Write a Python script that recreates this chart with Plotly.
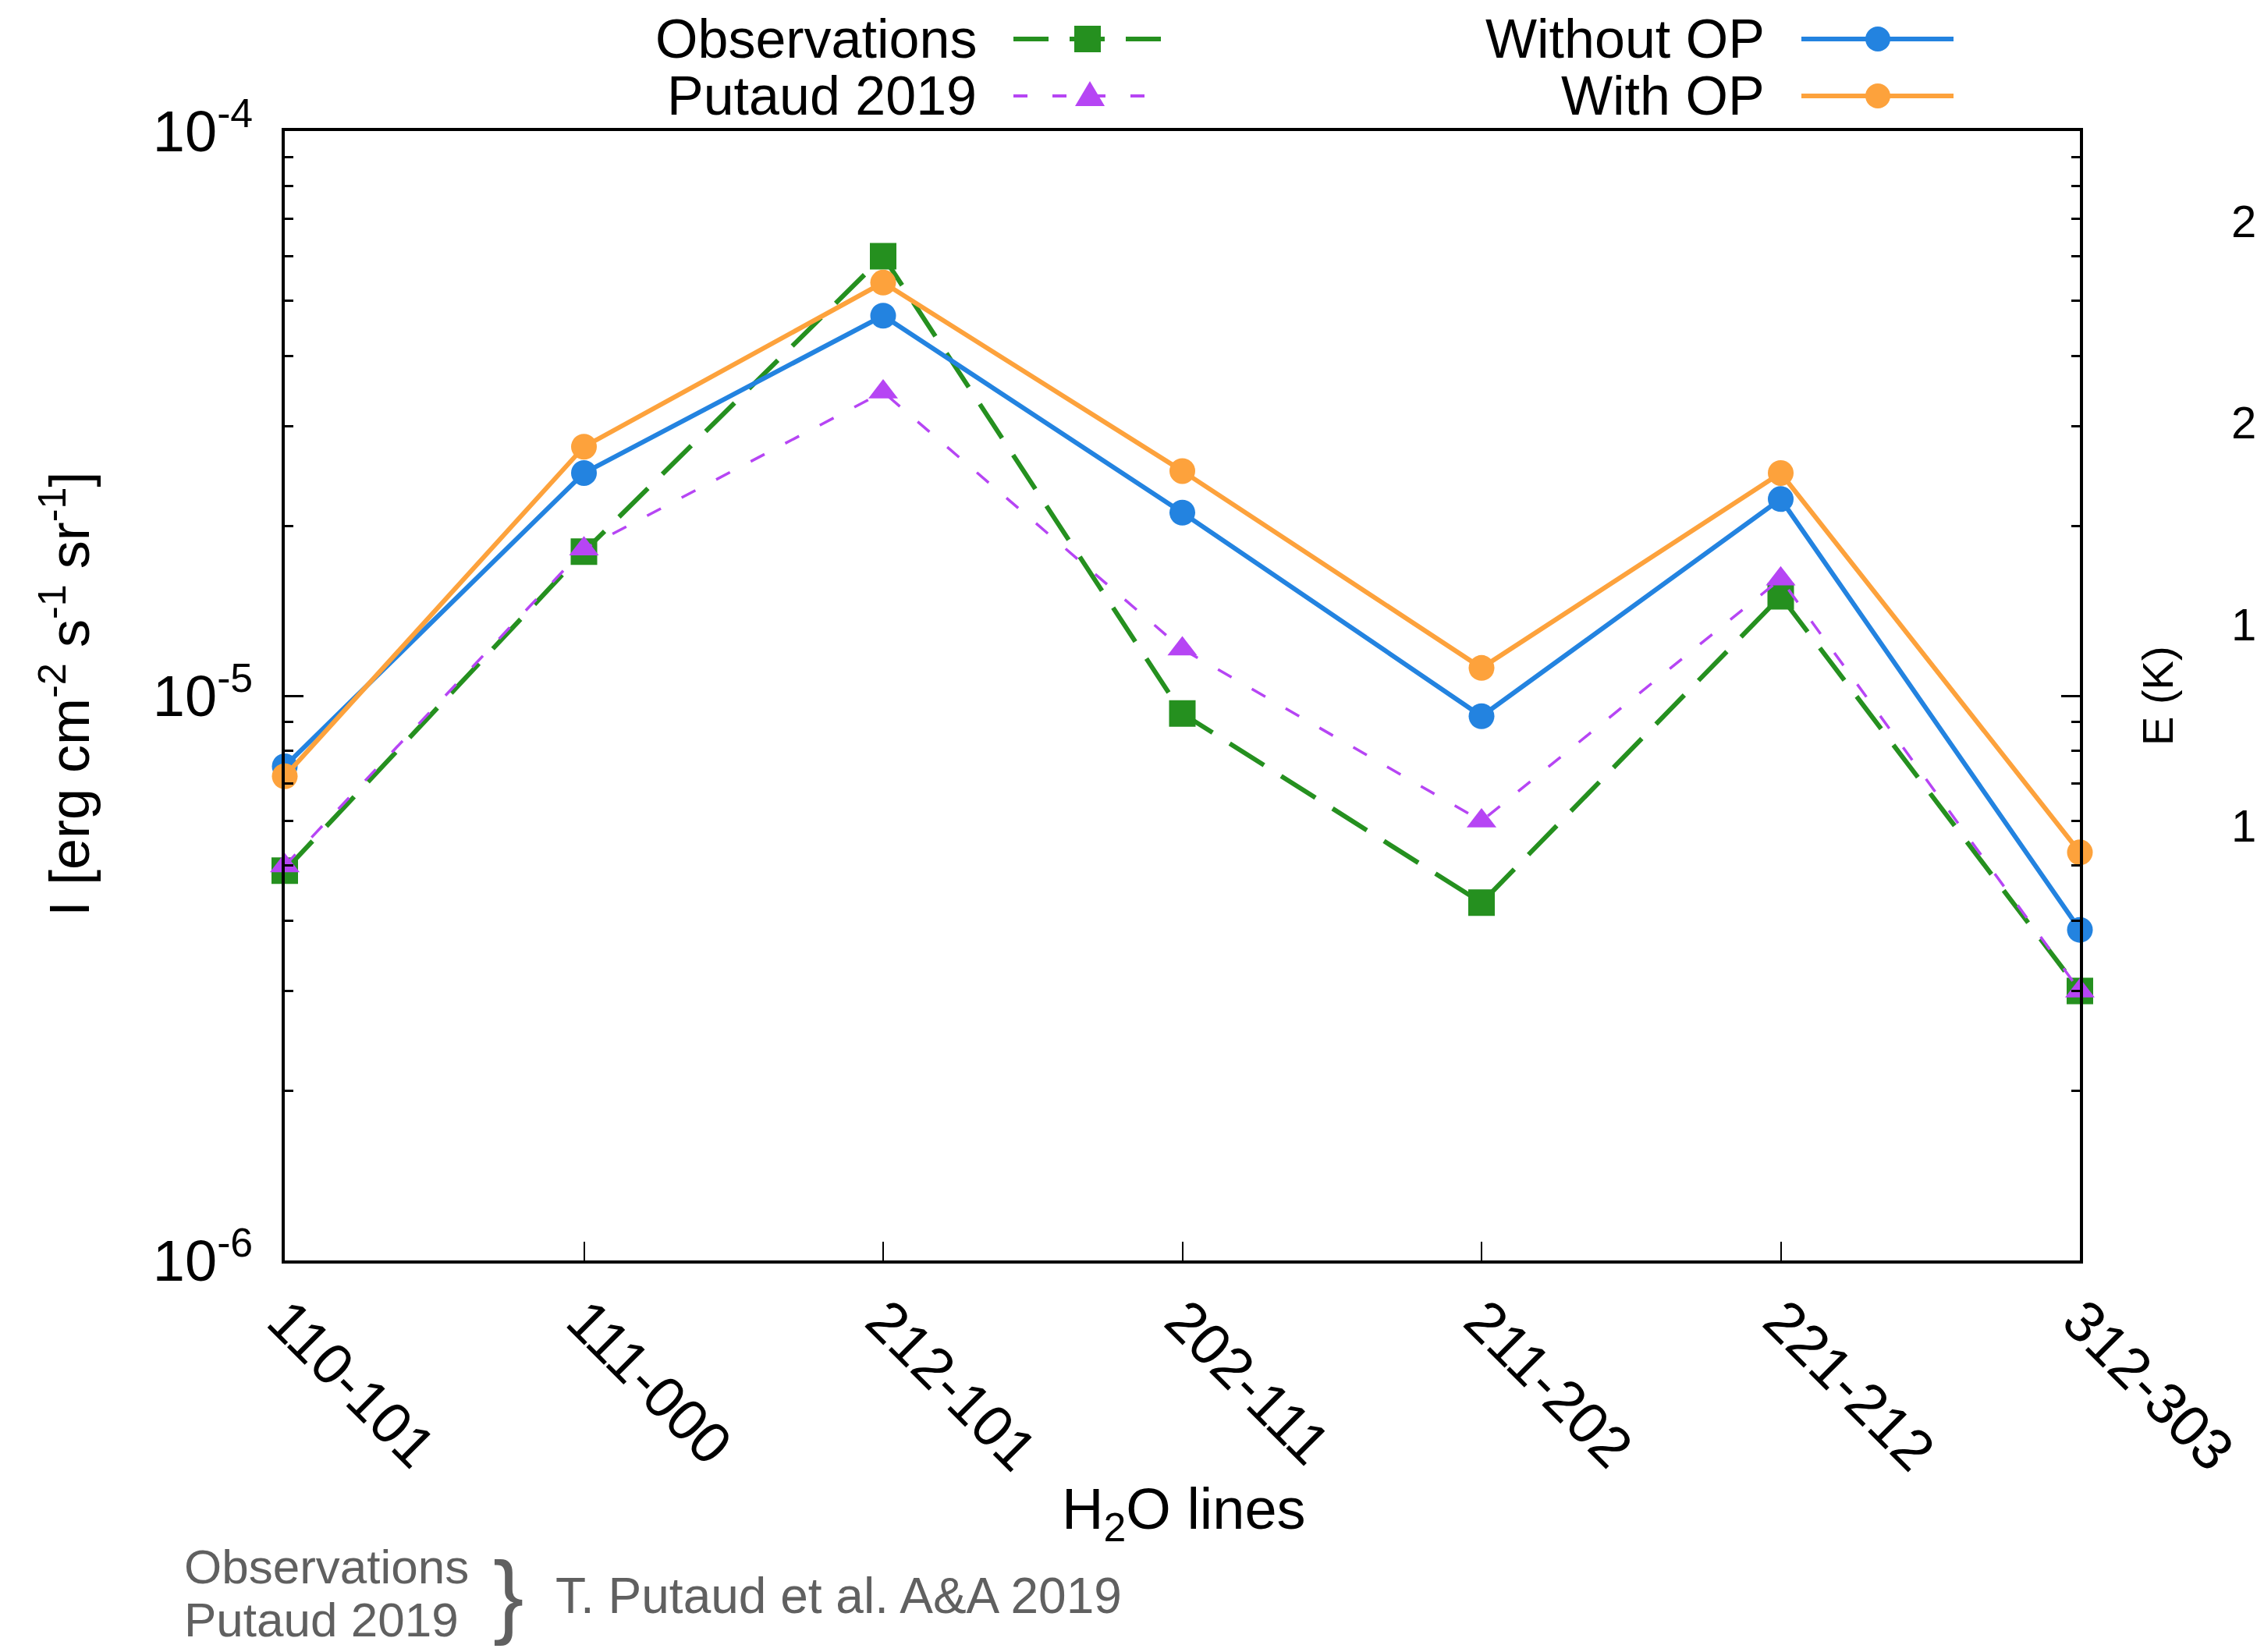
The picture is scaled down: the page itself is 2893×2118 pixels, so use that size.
import plotly.graph_objects as go

# H2O transitions (x categories)
lines = ["110-101", "111-000", "212-101", "202-111", "211-202", "221-212", "312-303"]

# Line intensities, erg cm^-2 s^-1 sr^-1
observations = [4.9e-6, 1.80e-5, 6.0e-5, 9.3e-6, 4.3e-6, 1.50e-5, 3.0e-6]
putaud_2019 = [5.0e-6, 1.82e-5, 3.45e-5, 1.21e-5, 6.0e-6, 1.61e-5, 3.0e-6]
without_op = [7.5e-6, 2.48e-5, 4.71e-5, 2.11e-5, 9.2e-6, 2.23e-5, 3.85e-6]
with_op = [7.2e-6, 2.76e-5, 5.39e-5, 2.50e-5, 1.12e-5, 2.48e-5, 5.28e-6]

# y-axis decades and their labels
y_major = [1e-6, 1e-5, 1e-4]
y_major_text = ["10<sup>-6</sup>", "10<sup>-5</sup>", "10<sup>-4</sup>"]
y_minor = [k * 10.0 ** e for e in (-6, -5) for k in range(2, 10)]

# labels of the partly visible energy scale on the right
e_scale_text = ["2", "2", "1", "1"]

GREEN = "#25901f"
PURPLE = "#b645f4"
BLUE = "#2383e0"
ORANGE = "#fda23c"
GREY = "#606060"
FONT = "Liberation Sans, Arial, Helvetica, sans-serif"

W, H = 2893, 2118
L, R, T, B = 365, 2666, 168, 1616


def px(x):
    return (x - L) / (R - L)


def py(y):
    return (B - y) / (B - T)


xs = list(range(len(lines)))

fig = go.Figure()
fig.add_trace(go.Scatter(
    x=xs, y=observations, mode="lines+markers", name="Observations",
    line=dict(color=GREEN, width=6, dash="52px,26px"),
    marker=dict(symbol="square", size=34, color=GREEN), cliponaxis=False))
fig.add_trace(go.Scatter(
    x=xs, y=putaud_2019, mode="lines+markers", name="Putaud 2019",
    line=dict(color=PURPLE, width=3.5, dash="20px,30px"),
    marker=dict(symbol="triangle-up", size=33, color=PURPLE), cliponaxis=False))
fig.add_trace(go.Scatter(
    x=xs, y=without_op, mode="lines+markers", name="Without OP",
    line=dict(color=BLUE, width=6),
    marker=dict(symbol="circle", size=33, color=BLUE), cliponaxis=False))
fig.add_trace(go.Scatter(
    x=xs, y=with_op, mode="lines+markers", name="With OP",
    line=dict(color=ORANGE, width=6),
    marker=dict(symbol="circle", size=33, color=ORANGE), cliponaxis=False))

annotations = []
shapes = []

# key: text on the left, sample on the right (two columns)
key = [
    ("Observations", 1254, 50, 1299, 1489, 1394, GREEN, 6, "45px,27px", "square"),
    ("Putaud 2019", 1254, 123, 1299, 1494, 1397, PURPLE, 4, "18px,32px", "triangle"),
    ("Without OP", 2264, 50, 2309, 2504, 2407, BLUE, 6, "solid", "circle"),
    ("With OP", 2264, 123, 2309, 2504, 2407, ORANGE, 6, "solid", "circle"),
]
for text, tx, ty, x0, x1, xm, color, lw, dash, sym in key:
    annotations.append(dict(
        text=text, x=px(tx), y=py(ty), xref="paper", yref="paper",
        xanchor="right", yanchor="middle", showarrow=False,
        font=dict(family=FONT, size=70, color="black")))
    shapes.append(dict(
        type="line", xref="paper", yref="paper",
        x0=px(x0), x1=px(x1), y0=py(ty), y1=py(ty),
        line=dict(color=color, width=lw, dash=dash)))
    if sym == "circle":
        shapes.append(dict(
            type="circle", xref="paper", yref="paper",
            xsizemode="pixel", ysizemode="pixel",
            xanchor=px(xm), yanchor=py(ty),
            x0=-16, x1=16, y0=-16, y1=16,
            fillcolor=color, line=dict(width=0)))
    elif sym == "square":
        shapes.append(dict(
            type="rect", xref="paper", yref="paper",
            xsizemode="pixel", ysizemode="pixel",
            xanchor=px(xm), yanchor=py(ty),
            x0=-17, x1=17, y0=-17, y1=17,
            fillcolor=color, line=dict(width=0)))
    else:
        shapes.append(dict(
            type="path", xref="paper", yref="paper",
            xsizemode="pixel", ysizemode="pixel",
            xanchor=px(xm), yanchor=py(ty),
            path="M -19 -13 L 19 -13 L 0 19 Z",
            fillcolor=color, line=dict(width=0)))

# axis titles
annotations.append(dict(
    text="I [erg cm<sup>-2</sup> s<sup>-1</sup> sr<sup>-1</sup>]",
    x=px(83), y=py(890), xref="paper", yref="paper", textangle=-90,
    xanchor="center", yanchor="middle", showarrow=False,
    font=dict(family=FONT, size=72, color="black")))
annotations.append(dict(
    text="H<sub>2</sub>O lines",
    x=px(1517), y=py(1940), xref="paper", yref="paper",
    xanchor="center", yanchor="middle", showarrow=False,
    font=dict(family=FONT, size=74, color="black")))

# energy scale on the right edge
annotations.append(dict(
    text="E (K)", x=px(2765), y=py(892), xref="paper", yref="paper",
    textangle=-90, xanchor="center", yanchor="middle", showarrow=False,
    font=dict(family=FONT, size=56, color="black")))
for txt, yy in zip(e_scale_text, [283, 541, 800, 1058]):
    annotations.append(dict(
        text=txt, x=px(2858), y=py(yy), xref="paper", yref="paper",
        xanchor="left", yanchor="middle", showarrow=False,
        font=dict(family=FONT, size=58, color="black")))

# data references
annotations.append(dict(
    text="Observations", x=px(234), y=py(2008), xref="paper", yref="paper",
    xanchor="left", yanchor="middle", showarrow=False,
    font=dict(family=FONT, size=62, color=GREY)))
annotations.append(dict(
    text="Putaud 2019", x=px(234), y=py(2076), xref="paper", yref="paper",
    xanchor="left", yanchor="middle", showarrow=False,
    font=dict(family=FONT, size=62, color=GREY)))
annotations.append(dict(
    text="}", x=px(651), y=py(2044), xref="paper", yref="paper",
    xanchor="center", yanchor="middle", showarrow=False,
    font=dict(family=FONT, size=118, color=GREY)))
annotations.append(dict(
    text="T. Putaud et al. A&amp;A 2019", x=px(710), y=py(2046),
    xref="paper", yref="paper",
    xanchor="left", yanchor="middle", showarrow=False,
    font=dict(family=FONT, size=64, color=GREY)))

fig.update_layout(
    width=W, height=H, autosize=False,
    margin=dict(l=L, r=W - R, t=T, b=H - B, autoexpand=False),
    paper_bgcolor="white", plot_bgcolor="white",
    showlegend=False,
    annotations=annotations, shapes=shapes,
    font=dict(family=FONT, color="black"),
)

fig.update_xaxes(
    range=[0, len(lines) - 1], tickmode="array", tickvals=xs, ticktext=lines,
    tickangle=45, ticks="inside", ticklen=24, tickwidth=2, tickcolor="black",
    tickfont=dict(family=FONT, size=74, color="black"),
    showline=True, linewidth=4, linecolor="black", mirror=True,
    showgrid=False, zeroline=False)

fig.update_yaxes(
    type="log", range=[-6, -4], tickmode="array",
    tickvals=y_major, ticktext=y_major_text,
    ticks="inside", ticklen=24, tickwidth=3, tickcolor="black",
    tickfont=dict(family=FONT, size=74, color="black"),
    ticklabelstandoff=22,
    minor=dict(tickmode="array", tickvals=y_minor, ticks="inside",
               ticklen=11, tickwidth=3, tickcolor="black", showgrid=False),
    showline=True, linewidth=4, linecolor="black", mirror="ticks",
    showgrid=False, zeroline=False)

fig.write_html("out.html")
